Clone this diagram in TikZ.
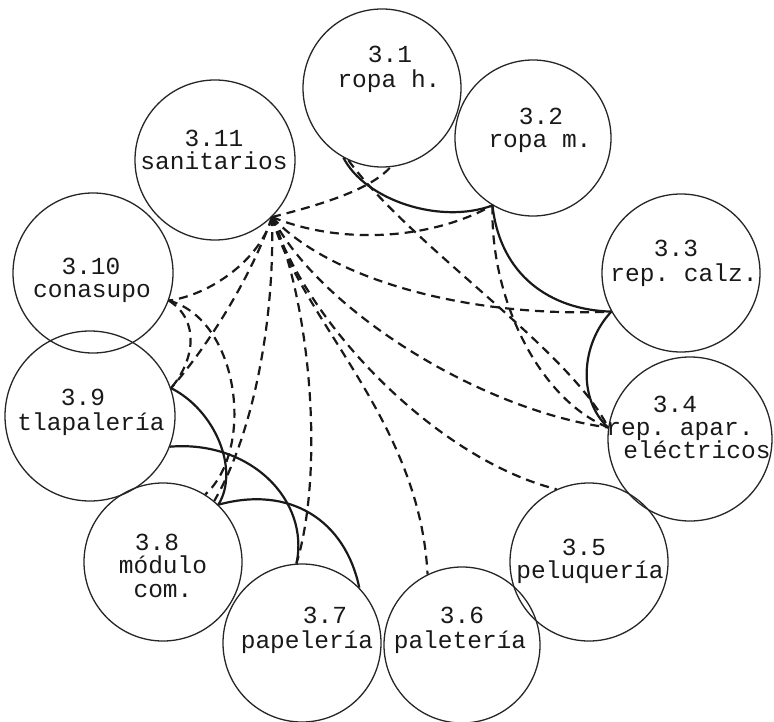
\documentclass[tikz,border=0pt]{standalone}
\usepackage{fontspec}
\setmonofont{Liberation Mono}
\begin{document}
\begin{tikzpicture}[x=1pt,y=-1pt,
  ring/.style={draw=black!85, line width=1.3pt, circle, minimum size=#1, inner sep=0pt},
  lbl/.style={anchor=base, font=\ttfamily\fontsize{24.5}{23}\selectfont, inner sep=0pt, text=black!90},
  link/.style={line width=2.2pt, black!90},
  dlink/.style={line width=2.2pt, black!90, dash pattern=on 9pt off 6pt}]
\useasboundingbox (0,0) rectangle (774,722);
% circles
\node[ring=158pt] (c1) at (382,88) {};
\node[ring=156pt] (c2) at (533,138) {};
\node[ring=158pt] (c3) at (681,273) {};
\node[ring=164pt] (c4) at (690,439) {};
\node[ring=158pt] (c5) at (589,562) {};
\node[ring=156pt] (c6) at (462,645) {};
\node[ring=158pt] (c7) at (302,643) {};
\node[ring=158pt] (c8) at (163,562) {};
\node[ring=170pt] (c9) at (90,416) {};
\node[ring=160pt] (c10) at (93,273) {};
\node[ring=160pt] (c11) at (215,160) {};
% labels
\node[lbl] (t1a) at (390,63) {3.1};
\node[lbl] (t1b) at (389,88) {ropa h.};
\node[lbl] (t2a) at (541,125) {3.2};
\node[lbl] (t2b) at (540,148) {ropa m.};
\node[lbl] (t3a) at (676,257) {3.3};
\node[lbl] (t3b) at (684,282) {rep. calz.};
\node[lbl] (t4a) at (675,412) {3.4};
\node[lbl] (t4b) at (680,435) {rep. apar.};
\node[lbl] (t4c) at (697,458) {eléctricos};
\node[lbl] (t5a) at (584,555) {3.5};
\node[lbl] (t5b) at (590,578) {peluquería};
\node[lbl] (t6a) at (462,623) {3.6};
\node[lbl] (t6b) at (460,648) {paletería};
\node[lbl] (t7a) at (325,623) {3.7};
\node[lbl] (t7b) at (307,648) {papelería};
\node[lbl] (t8a) at (157,550) {3.8};
\node[lbl] (t8b) at (163,573) {módulo};
\node[lbl] (t8c) at (163,597) {com.};
\node[lbl] (t9a) at (83,405) {3.9};
\node[lbl] (t9b) at (91,430) {tlapalería};
\node[lbl] (t10a) at (91,275) {3.10};
\node[lbl] (t10b) at (92,298) {conasupo};
\node[lbl] (t11a) at (214,147) {3.11};
\node[lbl] (t11b) at (214,170) {sanitarios};
\coordinate (hub) at (c11.-45);
% solid relations
\draw[link] (c1.-119) .. controls (365,200) and (440,225) .. (c2.-121);
\draw[link] (c2.-121) .. controls (500,275) and (550,310) .. (c3.-151);
\draw[link] (c3.-151) .. controls (580,345) and (578,400) .. (c4.172);
\draw[link] (c9.19) .. controls (215,410) and (240,470) .. (c8.46);
\draw[link] (c9.-21) .. controls (250,440) and (310,500) .. (c7.94);
\draw[link] (c8.46) .. controls (290,485) and (345,520) .. (c7.44);
% dashed relations
\draw[dlink] (hub) .. controls (320,205) and (370,190) .. (c1.-84);
\draw[dlink] (hub) .. controls (340,245) and (430,240) .. (c2.-121);
\draw[dlink] (hub) .. controls (330,280) and (470,318) .. (c3.-151);
\draw[dlink] (hub) .. controls (320,310) and (480,410) .. (c4.172);
\draw[dlink] (hub) .. controls (310,330) and (440,460) .. (c5.114);
\draw[dlink] (hub) .. controls (300,320) and (420,420) .. (c6.116);
\draw[dlink] (hub) .. controls (310,300) and (325,470) .. (c7.94);
\draw[dlink] (hub) .. controls (275,330) and (250,440) .. (c8.50);
\draw[dlink] (hub) .. controls (250,280) and (205,350) .. (c9.19);
\draw[dlink] (hub) .. controls (260,260) and (210,295) .. (c10.-20);
\draw[dlink] (c10.-20) .. controls (200,320) and (195,360) .. (c9.19);
\draw[dlink] (c10.-20) .. controls (240,320) and (255,450) .. (c8.58);
\draw[dlink] (c1.-115) .. controls (410,245) and (570,350) .. (c4.172);
\draw[dlink] (c2.-121) .. controls (490,300) and (540,400) .. (c4.172);
\end{tikzpicture}
\end{document}
